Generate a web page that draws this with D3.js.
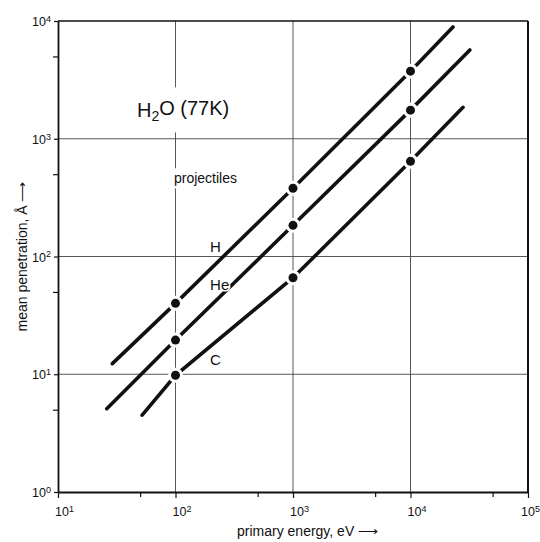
<!DOCTYPE html>
<html>
<head>
<meta charset="utf-8">
<script src="https://cdn.jsdelivr.net/npm/d3@7/dist/d3.min.js"></script>
<style>
    body { margin: 0; background: #fff; }
    text { font-family: "Liberation Sans", Arial, sans-serif; fill: #111; }
</style>
</head>
<body>
<svg id="graph" width="540" height="542"></svg>
<script>
// energias de los puntos medidos (eV)
var energias = [1e2, 1e3, 1e4];
// proyectiles
var proyectiles = ["H", "He", "C"];
// penetracion media (Angstrom) por proyectil
var penH = [40, 380, 3750];
var penHe = [19.5, 184, 1750];
var penC = [9.8, 66, 643];
// extremos de cada recta (energia, penetracion)
var inicioE = [29, 26, 52];
var inicioPen = [12.3, 5.1, 4.5];
var finE = [23000, 32000, 28000];
var finPen = [8900, 5670, 1850];
// ticks
var ticksX = [1e1, 1e2, 1e3, 1e4, 1e5];
var ticksY = [1e0, 1e1, 1e2, 1e3, 1e4];
var menoresX = [50, 500, 5000, 50000];
var menoresY = [5, 50, 500, 5000];

function creaGrafica() {
    let svg = d3.select("#graph");
    var margin = { top: 21, right: 12, bottom: 50, left: 58 };
    var width = +svg.attr("width") - margin.left - margin.right;
    var height = +svg.attr("height") - margin.top - margin.bottom;
    var g = svg.append("g").attr("transform", "translate(" + margin.left + "," + margin.top + ")");

    var x = d3.scaleLog().domain([1e1, 1e5]).range([0, width]);
    var y = d3.scaleLog().domain([1e0, 1e4]).range([height, 0]);

    // rejilla en cada decada
    g.append("g").selectAll("line")
        .data(ticksX.slice(1, -1))
        .enter().append("line")
        .attr("x1", d => x(d)).attr("x2", d => x(d))
        .attr("y1", 0).attr("y2", height)
        .attr("stroke", "#444").attr("stroke-width", 0.9);
    g.append("g").selectAll("line")
        .data(ticksY.slice(1, -1))
        .enter().append("line")
        .attr("y1", d => y(d)).attr("y2", d => y(d))
        .attr("x1", 0).attr("x2", width)
        .attr("stroke", "#444").attr("stroke-width", 0.9);

    // marco superior y derecho
    g.append("line").attr("x1", 0).attr("x2", width).attr("y1", 0).attr("y2", 0)
        .attr("stroke", "#111").attr("stroke-width", 1.4);
    g.append("line").attr("x1", width).attr("x2", width).attr("y1", 0).attr("y2", height)
        .attr("stroke", "#111").attr("stroke-width", 2);

    // ejes
    g.append("g").attr("transform", "translate(0," + height + ")")
        .call(d3.axisBottom(x).tickValues(ticksX).tickSize(6).tickSizeOuter(0).tickFormat(""));
    g.append("g").attr("transform", "translate(0," + height + ")")
        .call(d3.axisBottom(x).tickValues(menoresX).tickSize(5).tickSizeOuter(0).tickFormat(""))
        .select(".domain").remove();
    g.append("g")
        .call(d3.axisLeft(y).tickValues(ticksY).tickSize(4).tickSizeOuter(0).tickFormat(""));
    g.append("g")
        .call(d3.axisLeft(y).tickValues(menoresY).tickSize(5).tickSizeOuter(0).tickFormat(""))
        .select(".domain").remove();
    g.selectAll(".domain").attr("stroke", "#111").attr("stroke-width", 1.8);
    g.selectAll(".tick line").attr("stroke", "#111").attr("stroke-width", 1.2);

    // etiquetas 10^n con superindice
    ticksX.forEach(function (d, i) {
        let corr = (i == ticksX.length - 1) ? -7 : -3; // la ultima no cabe entera
        let t = g.append("text")
            .attr("x", x(d) + corr).attr("y", height + 24)
            .style("font-size", "12.5px");
        t.append("tspan").text("10");
        t.append("tspan").attr("dy", "-0.45em").style("font-size", "9px").text(Math.round(Math.log10(d)));
    });
    ticksY.forEach(function (d) {
        let t = g.append("text")
            .attr("x", -7).attr("y", y(d) + 5)
            .attr("text-anchor", "end")
            .style("font-size", "12.5px");
        t.append("tspan").text("10");
        t.append("tspan").attr("dy", "-0.45em").style("font-size", "9px").text(Math.round(Math.log10(d)));
    });

    // titulos de ejes
    svg.append("text")
        .attr("x", 237).attr("y", 536)
        .style("font-size", "14px")
        .text("primary energy, eV \u27F6");
    svg.append("text")
        .attr("transform", "translate(27," + (margin.top + height / 2) + ") rotate(-90)")
        .attr("text-anchor", "middle")
        .style("font-size", "14px")
        .text("mean penetration, \u00C5 \u27F6");

    // rectas de cada proyectil
    var series = [penH, penHe, penC];
    var linea = d3.line().x(d => x(d[0])).y(d => y(d[1]));
    series.forEach(function (pen, i) {
        let pts = [[inicioE[i], inicioPen[i]]]
            .concat(energias.map((e, j) => [e, pen[j]]))
            .concat([[finE[i], finPen[i]]]);
        g.append("path")
            .datum(pts)
            .attr("d", linea)
            .attr("fill", "none")
            .attr("stroke", "#111")
            .attr("stroke-width", 3.6)
            .attr("stroke-linecap", "round");
    });

    // puntos con hueco blanco alrededor
    series.forEach(function (pen) {
        g.append("g").selectAll("circle")
            .data(energias.map((e, j) => [e, pen[j]]))
            .enter().append("circle")
            .attr("cx", d => x(d[0])).attr("cy", d => y(d[1]))
            .attr("r", 7.5).attr("fill", "#fff");
    });
    series.forEach(function (pen) {
        g.append("g").selectAll("circle")
            .data(energias.map((e, j) => [e, pen[j]]))
            .enter().append("circle")
            .attr("cx", d => x(d[0])).attr("cy", d => y(d[1]))
            .attr("r", 4.5).attr("fill", "#111");
    });

    // titulo H2O (77K) sobre fondo blanco
    let titulo = g.append("g");
    let tt = titulo.append("text")
        .attr("x", x(47)).attr("y", y(1525))
        .style("font-size", "20px");
    tt.append("tspan").text("H");
    tt.append("tspan").attr("dy", "0.3em").style("font-size", "14px").text("2");
    tt.append("tspan").attr("dy", "-0.3em").text("O (77K)");
    let bb = tt.node().getBBox();
    titulo.insert("rect", "text")
        .attr("x", bb.x - 3).attr("y", bb.y - 10)
        .attr("width", bb.width + 6).attr("height", bb.height + 18)
        .attr("fill", "#fff");

    let proj = g.append("g");
    let tp = proj.append("text")
        .attr("x", x(97)).attr("y", y(418))
        .style("font-size", "14px")
        .text("projectiles");
    let bp = tp.node().getBBox();
    proj.insert("rect", "text")
        .attr("x", bp.x - 2).attr("y", bp.y - 2)
        .attr("width", bp.width + 4).attr("height", bp.height + 4)
        .attr("fill", "#fff");

    // etiquetas de los proyectiles
    var etiquetaPen = [110, 52, 12];
    proyectiles.forEach(function (p, i) {
        g.append("text")
            .attr("x", x(197)).attr("y", y(etiquetaPen[i]))
            .style("font-size", "15px")
            .style("stroke", "#fff").style("stroke-width", 3)
            .style("paint-order", "stroke")
            .text(p);
    });
}

creaGrafica();
</script>
</body>
</html>
